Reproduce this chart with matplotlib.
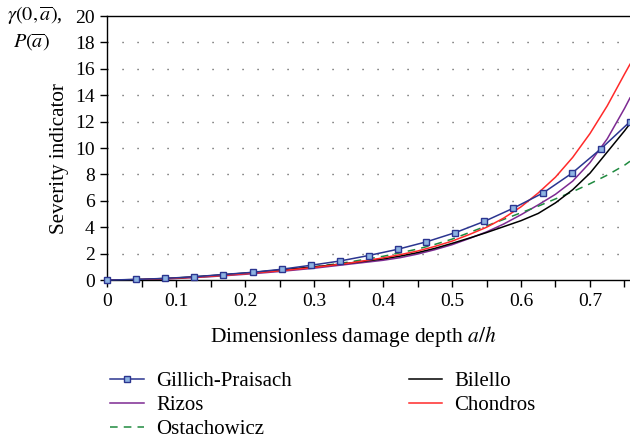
from matplotlib import pyplot as plt
from matplotlib.ticker import MultipleLocator, FuncFormatter

# data
x = [0, 0.05, 0.1, 0.15, 0.2, 0.25, 0.3, 0.35, 0.4, 0.425, 0.45, 0.475, 0.5,
     0.525, 0.55, 0.575, 0.6, 0.625, 0.65, 0.675, 0.7, 0.725, 0.75, 0.758]
chondros = [0, 0.04, 0.14, 0.29, 0.48, 0.7, 0.96, 1.28, 1.68, 1.93, 2.2, 2.55, 2.95,
            3.45, 4.0, 4.7, 5.55, 6.6, 7.8, 9.3, 11.1, 13.2, 15.6, 16.35]
rizos = [0, 0.03, 0.12, 0.26, 0.44, 0.65, 0.9, 1.2, 1.5, 1.7, 1.97, 2.3, 2.68,
         3.15, 3.65, 4.25, 4.95, 5.7, 6.5, 7.5, 8.9, 10.7, 13.0, 13.8]
bilello = [0, 0.05, 0.16, 0.33, 0.53, 0.76, 1.0, 1.28, 1.6, 1.82, 2.08, 2.4, 2.78,
           3.18, 3.6, 4.05, 4.5, 5.05, 5.85, 6.85, 8.1, 9.7, 11.3, 11.85]
ostachowicz = [0, 0.04, 0.14, 0.3, 0.5, 0.73, 1.0, 1.36, 1.8, 2.07, 2.35, 2.7, 3.1,
               3.6, 4.1, 4.6, 5.1, 5.6, 6.15, 6.7, 7.3, 7.95, 8.7, 9.0]

x_gp = [0, 0.042, 0.084, 0.126, 0.168, 0.211, 0.253, 0.295, 0.337, 0.379, 0.421,
        0.463, 0.505, 0.547, 0.589, 0.632, 0.674, 0.716, 0.758]
gillich = [0, 0.05, 0.13, 0.25, 0.42, 0.59, 0.82, 1.12, 1.44, 1.86, 2.33, 2.9,
           3.6, 4.45, 5.45, 6.6, 8.1, 9.95, 12.0]

plt.rcParams['font.family'] = 'Liberation Serif'
plt.rcParams['mathtext.fontset'] = 'stix'
plt.rcParams['font.size'] = 14

fig = plt.figure(figsize=(6.3, 4.46), dpi=100)
ax = fig.add_axes([0.170, 0.372, 0.830, 0.592])

for yv in range(2, 20, 2):
    ax.axhline(yv, color='#444444', lw=1.0, dashes=(0.8, 10), zorder=0)

ax.plot(x_gp, gillich, color='#2b3590', lw=1.1, marker='s', markersize=5,
        markerfacecolor='#8db3e2', markeredgecolor='#2b3590', markeredgewidth=1.0,
        label='Gillich-Praisach', zorder=5, clip_on=False)
ax.plot(x, rizos, color='#7d2a92', lw=1.1, label='Rizos')
ax.plot(x, ostachowicz, color='#1f8a3f', lw=1.1, dashes=(5, 4), label='Ostachowicz')
ax.plot(x, bilello, color='black', lw=1.1, label='Bilello')
ax.plot(x, chondros, color='#ff2a2a', lw=1.1, label='Chondros')

ax.set_xlim(0, 0.758)
ax.set_ylim(0, 20)
ax.xaxis.set_major_locator(MultipleLocator(0.05))
ax.xaxis.set_major_formatter(FuncFormatter(
    lambda v, p: ('%g' % round(v, 2)) if round(v * 20) % 2 == 0 else ''))
ax.yaxis.set_major_locator(MultipleLocator(2))
ax.tick_params(direction='out', length=5, width=1, pad=4, labelsize=14)
ax.spines['right'].set_visible(False)
for s in ['left', 'bottom', 'top']:
    ax.spines[s].set_linewidth(1.0)

ax.set_xlabel(r'Dimensionless damage depth $a/h$', fontsize=15.5)
ax.xaxis.set_label_coords(0.47, -0.165)
ax.set_ylabel('Severity indicator', fontsize=15.2)
ax.yaxis.set_label_coords(-0.073, 0.462)
fig.text(0.011, 0.99, r'$\gamma(0,\overline{a})$,', ha='left', va='top', fontsize=14.5)
fig.text(0.021, 0.93, r'$P(\overline{a})$', ha='left', va='top', fontsize=14.5)

fig.legend(loc='upper left', bbox_to_anchor=(0.162, 0.185), ncol=2, frameon=False,
           fontsize=15, handlelength=1.6, handletextpad=0.6, columnspacing=5.6,
           labelspacing=0.2, borderaxespad=0)

fig.savefig('out.png', dpi=100)
